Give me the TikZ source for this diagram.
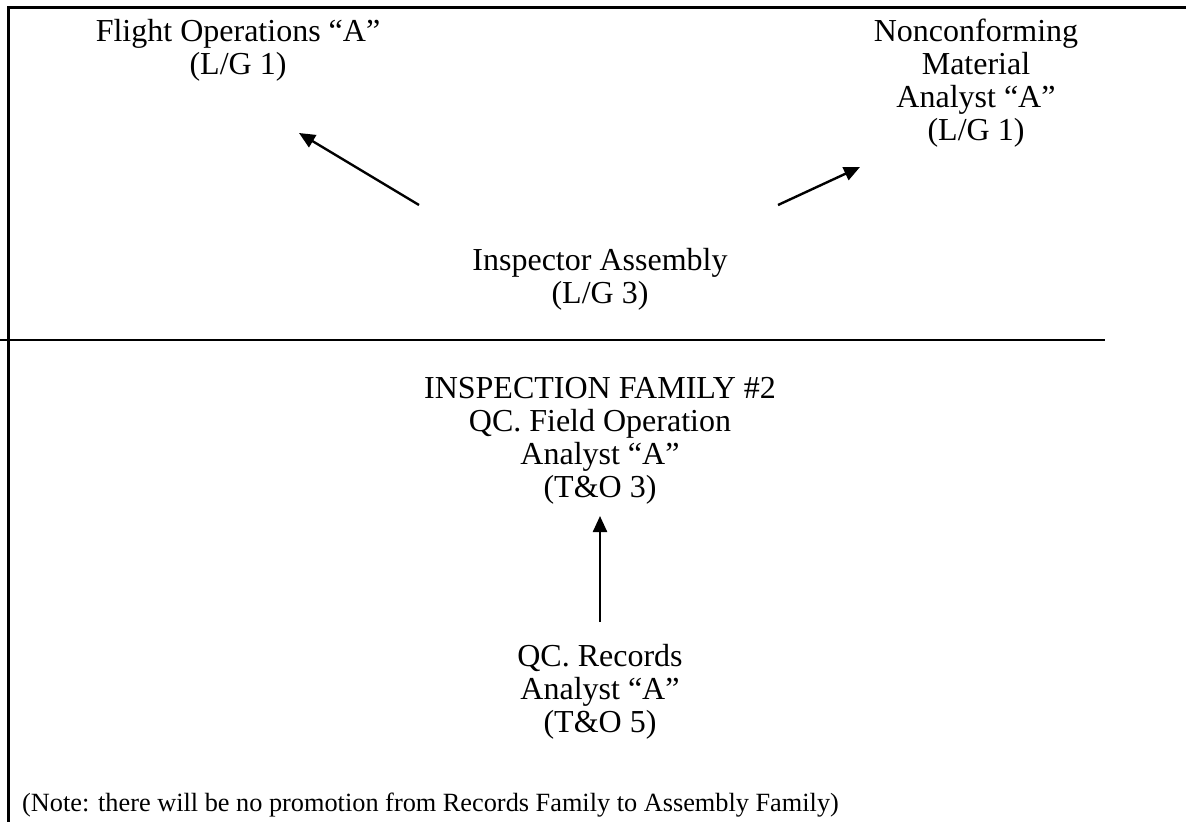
\documentclass[tikz,border=0pt]{standalone}
\usepackage{fontspec}
\setmainfont{Liberation Serif}
\usetikzlibrary{arrows.meta}
\begin{document}
\begin{tikzpicture}[x=1pt,y=-1pt,
  lbl/.style={align=center,inner sep=0pt,font=\fontsize{32}{33}\selectfont},
  promo/.style={line width=2.4pt,-{Triangle[length=16pt,width=14pt]}},
  frame/.style={line width=3pt}]
  \useasboundingbox (0,0) rectangle (1186,822);
  % frame lines
  \coordinate (tl) at (8,7);
  \coordinate (tr) at (1186,7);
  \coordinate (bl) at (8,822);
  \coordinate (ml) at (0,340);
  \coordinate (mr) at (1105,340);
  \draw[frame] (tr) -- (tl) -- (bl);
  \draw[line width=2pt] (ml) -- (mr);
  % job titles
  \node[lbl] (flight) at (238,50) {Flight Operations “A”\\(L/G 1)};
  \node[lbl] (noncon) at (976,83) {Nonconforming\\Material\\Analyst “A”\\(L/G 1)};
  \node[lbl] (insp) at (600,279) {Inspector Assembly\\(L/G 3)};
  \node[lbl] (fam) at (600,441) {INSPECTION FAMILY \#2\\QC. Field Operation\\Analyst “A”\\(T\&O 3)};
  \node[lbl] (rec) at (600,692) {QC. Records\\Analyst “A”\\(T\&O 5)};
  \node[anchor=base west,inner sep=0pt,font=\fontsize{26.3}{30}\selectfont] (note) at (22,811)
    {(Note: there will be no promotion from Records Family to Assembly Family)};
  % promotion arrows
  \coordinate (a1s) at (419,205);
  \coordinate (a1e) at (299,133);
  \coordinate (a2s) at (778,205);
  \coordinate (a2e) at (860,167);
  \coordinate (a3s) at (600,622);
  \coordinate (a3e) at (600,516);
  \draw[promo] (a1s) -- (a1e);
  \draw[promo] (a2s) -- (a2e);
  \draw[promo] (a3s) -- (a3e);
\end{tikzpicture}
\end{document}
